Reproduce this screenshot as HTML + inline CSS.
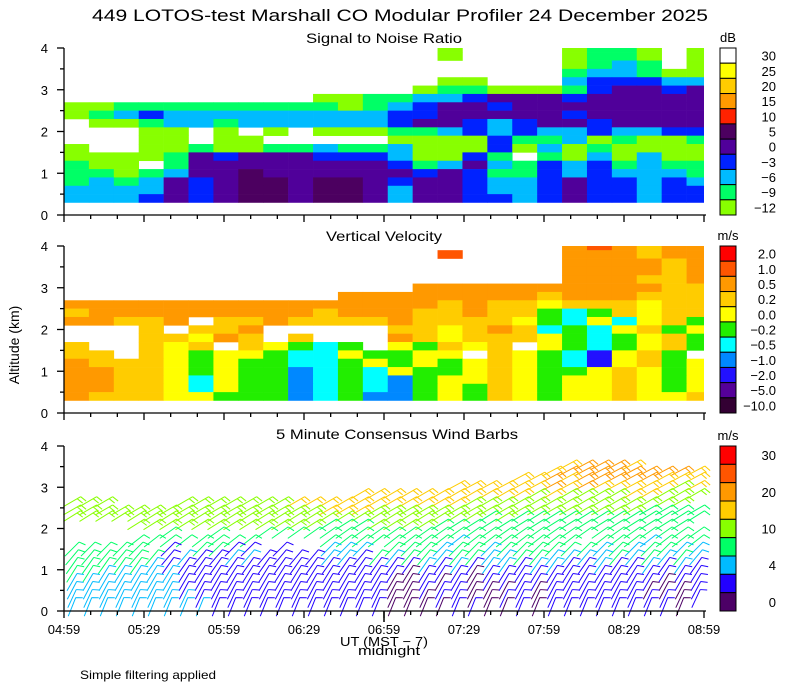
<!DOCTYPE html>
<html><head><meta charset="utf-8"><style>
html,body{margin:0;padding:0;background:#fff;}
svg{display:block;font-family:"Liberation Sans",sans-serif;}
</style></head><body>
<svg id="chart" width="800" height="700" viewBox="0 0 800 700" xmlns="http://www.w3.org/2000/svg">
<defs><clipPath id="plotclip"><rect x="64" y="0" width="640" height="700"/></clipPath></defs>
<text x="400" y="21" font-size="17" text-anchor="middle" textLength="616" lengthAdjust="spacingAndGlyphs">449 LOTOS-test Marshall CO Modular Profiler 24 December 2025</text>
<text x="384" y="43" font-size="14" text-anchor="middle" textLength="156" lengthAdjust="spacingAndGlyphs">Signal to Noise Ratio</text>
<text x="384" y="241" font-size="14" text-anchor="middle" textLength="116" lengthAdjust="spacingAndGlyphs">Vertical Velocity</text>
<text x="397" y="439" font-size="14" text-anchor="middle" textLength="242" lengthAdjust="spacingAndGlyphs">5 Minute Consensus Wind Barbs</text>
<text x="19" y="345" font-size="14" text-anchor="middle" transform="rotate(-90 19 345)">Altitude (km)</text>
<text x="384" y="646" font-size="13" text-anchor="middle" textLength="88" lengthAdjust="spacingAndGlyphs">UT  (MST − 7)</text>
<text x="389" y="655" font-size="13" text-anchor="middle" textLength="62" lengthAdjust="spacingAndGlyphs">midnight</text>
<text x="80" y="679" font-size="12" textLength="136" lengthAdjust="spacingAndGlyphs">Simple filtering applied</text>
<g id="layers"></g>
</svg>
<script>
// ---- data ----
const timeLabels = ["04:59","05:29","05:59","06:29","06:59","07:29","07:59","08:29","08:59"];
const altTicks = [0,1,2,3,4];
const snrLabels = ["30","25","20","15","10","5","0","−3","−6","−9","−12"];
const vvLabels = ["2.0","1.0","0.5","0.2","0.0","−0.2","−0.5","−1.0","−2.0","−5.0","−10.0"];
const windLabels = ["30","","20","","10","","4","","0"];
// SNR grid: rows top (3.9 km) to bottom (0.3 km)
const snrRows = [
"...............L....LGGL.LLGG.LG",
"...............L....LGGL.LLGG.LG",
"....................LGCG.LGGLLGG",
"....................GCCGLLGCGLGL",
"...............LL...CBBBCCBBCCCG",
"..............LGGLLLGBPPBPBBPBBC",
"..........LLGGCCBPPPBPPPPPPPPPPP",
"LLGGGGGGGGGLGCBPPBPPPPPPPPPPPPPP",
"LGCBCCCCCCCCCBBPPPPPBPPPPPPPPPPP",
".LLGCCGCCCCCCBPPBCBPPBPPPPPPPPPP",
"...LL.L.L.LLLGGCBCBCCBCCBBBBBBBB",
"...LL.LL.....LLLLBGGCLGLLGLLGCCG",
"L..LLGLLGGCGGCLLLBLCLGLLLLLLLLGG",
"LLLLGPBPPPBBBCLLBG.GLCLCLLLGLLGG",
"GLL.GPPPPPPPPBGCPCGBCBGCGGLLGGCC",
"GGLGCPPDPPPPPPBPBGGBCBCCCGCCCGCC",
"GCGCPBPDDPDDPBPPBCCBPBBCBCCCCBCC",
"CCCCPBPDDPDDPCPPBCCBPBBCBBCCCBBC",
"CCCBPBPDDPDDPCPPBBCBPBBCBBBCCBBB"
];
// Vertical velocity grid
const vvRows = [
"....................oOoYoooooYoY",
"...............O....oooYoooo.YoY",
"....................ooooYoooYYYo",
"....................ooooYooYYYoo",
"....................oooYYoYYYooo",
"..............ooooooooooYYoYYYoo",
"...........ooooooooYoooYYYYoYYoo",
"oooooooooooooooYoYYyYYYyYYyYYYYo",
"YoooooooooYoooYYoYYGCGYyYYyYoYYo",
"ooYYo.YYoYYYYoYYYYyGCyCyYGyGYYYo",
"...Y.YYo.....YYyYoYCGCyYGyYGyGyY",
"...YYyoY.Y...oYyYYYyGCGyYGyGyCyY",
"Y..YyY.YyGCG.yGYyY.yGCGyYGyGCyYY",
"YY.YyGyyGCCyGGyy.YyGCByYG.yGCyYY",
"oYYYyGyGGCCGyGyGyYyGCByYGyyGyYyY",
"ooYYyGyGGbCGCyGGyYyGGyYyGyYGyyGC",
"ooYYyCyGGbCGCbGyyYyGyyYyGyYGyyGG",
"ooYYyCyGGbCGCbGyGYyGyyYyGyYGyyGG",
"oYYYyyGGGbCGbbGyGYyGyyYyyYYGyyGG"
];
// Wind barbs: speed class per cell, rows top to bottom, 40 columns
const windRows = [
"...............................56665....",
"..............................5666666665",
"............................556566666555",
"........................5555556565555545",
"..................5555555555545444455444",
"444....44444445555555555544444444444444",
"4444444444444444555444444444444444443333",
"4444444444444444444444444434333333333333",
"....44444444444433344443333333333333333",
"......3..3..33333333333333333333333333333",
"....33333333....3333333323333333.3332333",
"33333.1.3311.1..222.33323323333332323322",
"33333312112211112213233233223322223232322",
"3333321111111111111111212122122112112121",
"3322222111111111111110111011111111111111",
"2222222111111111111100101011111111111011",
"2222222111111111111100111000101111110001",
"2222222211111111111100011001101111111101",
"222222222111111111110000110010111111110."
];
// row altitudes (km), top to bottom
const windAlts = [3.55,3.4,3.25,3.05,2.85,2.65,2.45,2.3,2.1,1.9,1.7,1.5,1.3,1.1,0.9,0.7,0.5,0.3,0.1];
// wind direction (staff angle, deg) per row top->bottom
const windDirs = [28,28,28,28,30,30,30,32,32,35,38,45,50,55,58,60,62,65,68];

const snrColors = {L:"#88ff00",G:"#00ff66",C:"#00bbff",B:"#0022ff",P:"#50009a",D:"#4c0060",R:"#ff2200"};
const vvColors = {R:"#ff0000",O:"#ff5500",o:"#ff9900",Y:"#ffcc00",y:"#ffff00",G:"#22ee00",C:"#00ffff",b:"#0088ff",B:"#2211ff",P:"#550099",D:"#330033"};
const windColors = ["#4c0066","#2200ff","#00bbff","#00ff66","#88ff00","#ffcc00","#ff9900","#ff5500","#ff0000"];
const snrBar = ["#ffffff","#ffff00","#ffcc00","#ff9900","#ff2200","#4c0060","#50009a","#0022ff","#00bbff","#00ff66","#88ff00"];
const vvBar = ["#ff0000","#ff5500","#ff9900","#ffcc00","#ffff00","#22ee00","#00ffff","#0088ff","#2211ff","#550099","#330033"];
const windBar = ["#ff0000","#ff5500","#ff9900","#ffcc00","#88ff00","#00ff66","#00bbff","#2200ff","#4c0066"];

// ---- layout ----
const NS="http://www.w3.org/2000/svg";
const X0=64, X1=704;
const GRID_COLS=25.7;
const panels=[{top:48,bottom:215},{top:246,bottom:413},{top:446,bottom:611}];
const layers=document.getElementById('layers');
function mk(tag,attrs,parent){const e=document.createElementNS(NS,tag);for(const k in attrs)e.setAttribute(k,attrs[k]);(parent||layers).appendChild(e);return e;}
function yS(p,km){const P=panels[p];return P.bottom-(P.bottom-P.top)*km/4;}
function xCol(c){return X0+(X1-X0)*c/GRID_COLS;}

function drawGrid(p,rows,colors,name){
  const g=mk('g',{'clip-path':'url(#plotclip)'});
  
  
  rows.forEach((row,i)=>{
    const k=rows.length-1-i;
    const lo=0.3+0.2*k, hi=Math.min(4.0,0.5+0.2*k);
    for(let c=0;c<Math.ceil(GRID_COLS);c++){
      const ch=row.charAt(c);
      if(!colors[ch])continue;
      const r=mk('rect',{x:xCol(c),y:yS(p,hi),width:xCol(c+1)-xCol(c)+0.3,height:yS(p,lo)-yS(p,hi)+0.3,fill:colors[ch]},g);
      
      
    }
  });
}
drawGrid(0,snrRows,snrColors,'snr-heatmap');
drawGrid(1,vvRows,vvColors,'vv-heatmap');

// wind barbs
(function(){
  const g=mk('g',{fill:'none','stroke-width':1});
  
  
  const n=40;
  windRows.forEach((row,i)=>{
    const km=windAlts[i];
    const ang=windDirs[i]*Math.PI/180;
    for(let c=0;c<n;c++){
      const ch=row.charAt(c);
      if(ch===''||ch==='.')continue;
      const s=+ch;
      const col=windColors[s];
      const bx=X0+(X1-X0)*(c+0.5)/n, by=yS(2,km);
      const L=20, dx=Math.cos(ang), dy=-Math.sin(ang);
      const sx=bx-dx*L/2, sy=by-dy*L/2;
      const ex=bx+dx*L/2, ey=by+dy*L/2;
      let d=`M${sx},${sy}L${ex},${ey}`;
      const nf=s>=4?2:1;
      for(let f=0;f<nf;f++){
        const fx=ex-dx*4*f, fy=ey-dy*4*f;
        const fa=ang-1.2;
        d+=`M${fx},${fy}l${Math.cos(fa)*7},${-Math.sin(fa)*7}`;
      }
      const pth=mk('path',{d:d,stroke:col},g);
      
      
    }
  });
})();

// axes
[0,1,2].forEach(p=>{
  const P=panels[p];
  const ax=mk('g',{stroke:'#000','stroke-width':1.3,fill:'none'});
  
  
  mk('line',{x1:X0,y1:P.top,x2:X0,y2:P.bottom},ax);
  mk('line',{x1:X0,y1:P.bottom,x2:X1+2,y2:P.bottom},ax);
  for(let h=0;h<=8;h++){const y=yS(p,h/2);mk('line',{x1:X0,y1:y,x2:X0-(h%2?4:7),y2:y},ax);}
  for(let m=0;m<=24;m++){const x=X0+(X1-X0)*m/24;const len=m%3===0?7:4;mk('line',{x1:x,y1:P.bottom,x2:x,y2:P.bottom+len},ax);}
  altTicks.forEach(v=>{
    const t=mk('text',{x:48,y:yS(p,v)+5,'font-size':13,'text-anchor':'end'});
    
    
    t.textContent=v;
  });
});
mk('line',{x1:384,y1:611,x2:384,y2:622,stroke:'#000','stroke-width':1.5});
timeLabels.forEach((lab,i)=>{
  const t=mk('text',{x:X0+80*i,y:634,'font-size':13,'text-anchor':'middle'});
  
  
  t.textContent=lab;
});

// colorbars
function colorbar(top,bottom,colors,labels,unit,name){
  const g=mk('g',{});
  
  
  const h=(bottom-top)/colors.length;
  colors.forEach((c,i)=>{
    const r=mk('rect',{x:720,y:top+i*h,width:16,height:h,fill:c,stroke:'#000','stroke-width':1},g);
    
    
    if(labels[i]){
      const t=mk('text',{x:776,y:top+i*h+h/2+5,'font-size':13,'text-anchor':'end'},g);
      
      
      t.textContent=labels[i];
    }
  });
  const u=mk('text',{x:728,y:top-6,'font-size':13,'text-anchor':'middle'},g);
  
  
  u.textContent=unit;
}
colorbar(48,215,snrBar,snrLabels,'dB','snr-colorbar');
colorbar(246,413,vvBar,vvLabels,'m/s','vv-colorbar');
colorbar(446,611,windBar,windLabels,'m/s','wind-colorbar');
</script>
</body></html>
